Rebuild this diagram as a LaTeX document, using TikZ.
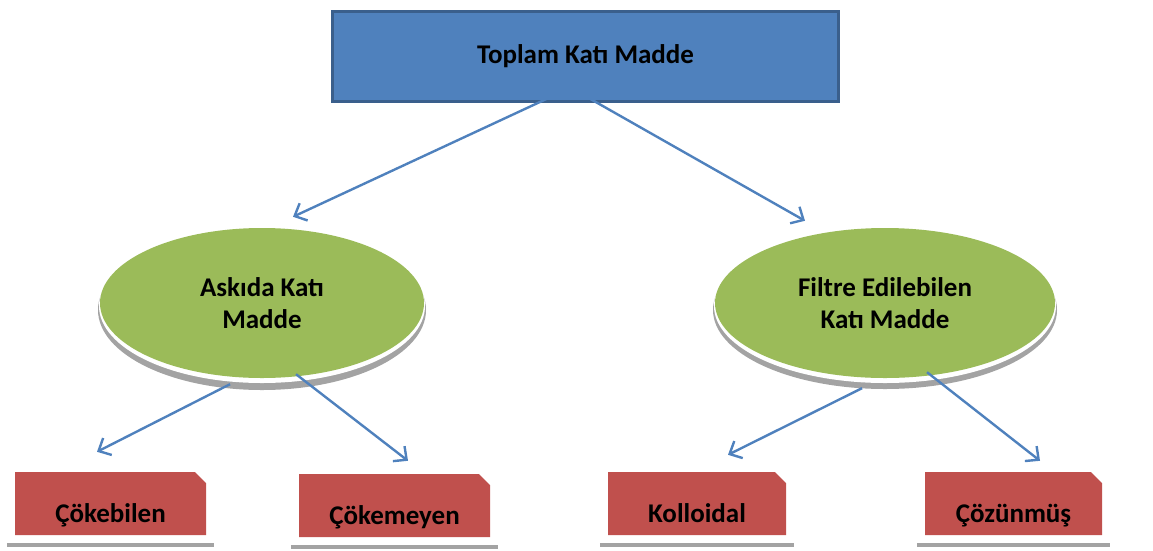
\documentclass[tikz,border=0pt]{standalone}
\usepackage{fontspec}
\setmainfont{Carlito}
\usetikzlibrary{arrows.meta,shapes.geometric,shapes.misc}
\definecolor{boxblue}{HTML}{4F81BD}
\definecolor{boxblueline}{HTML}{3A5F8C}
\definecolor{ovalgreen}{HTML}{9BBB59}
\definecolor{boxred}{HTML}{C0504D}
\definecolor{shadowgray}{HTML}{A3A3A3}
\tikzset{
  lbl/.style={font=\fontsize{27}{32}\selectfont\bfseries, text=black},
  topbox/.style={lbl, rectangle, fill=boxblue, draw=boxblueline, line width=3pt,
    minimum width=506pt, minimum height=90pt, inner sep=0pt},
  oval/.style={lbl, ellipse, fill=ovalgreen, inner sep=0pt, align=center},
  leaf/.style={lbl, chamfered rectangle, chamfered rectangle corners=north east,
    chamfered rectangle xsep=8pt, fill=boxred, inner sep=0pt,
    minimum height=63pt, text height=38pt, text depth=0pt},
  link/.style={draw=boxblue, line width=2.4pt,
    -{Straight Barb[length=10pt,width=19pt,line width=2.4pt]}},
  floor/.style={draw=shadowgray, line width=4pt}
}
\begin{document}
\begin{tikzpicture}[x=1pt,y=-1pt]
\useasboundingbox (0,0) rectangle (1153,550);
% ellipse shadows
\fill[shadowgray] (262,310) ellipse [x radius=164, y radius=80];
\fill[white] (262,306) ellipse [x radius=163, y radius=77];
\fill[shadowgray] (885,310) ellipse [x radius=172, y radius=79];
\fill[white] (885,306) ellipse [x radius=171, y radius=77];
% nodes
\node[topbox] (top) at (585.5,56.5) {Toplam Katı Madde};
\node[oval, minimum width=324pt, minimum height=150pt] (ask) at (262,303) {Askıda Katı\\Madde};
\node[oval, minimum width=340pt, minimum height=150pt] (fil) at (885,303) {Filtre Edilebilen\\Katı Madde};
\node[leaf, minimum width=191pt] (cok) at (110.5,503.5) {Çökebilen};
\node[leaf, minimum width=191pt] (cokm) at (394.5,505.5) {Çökemeyen};
\node[leaf, minimum width=178pt] (kol) at (697,503.5) {Kolloidal};
\node[leaf, minimum width=177pt] (coz) at (1013.5,503.5) {Çözünmüş};
% floor lines
\foreach \n in {cok,cokm,kol,coz}
  \draw[floor] ([shift={(-8,10)}]\n.south west) -- ([shift={(8,10)}]\n.south east);
% connectors
\draw[link] ([shift={(-15.5,-15)}]top.south) -- ([shift={(31,-11)}]ask.north);
\draw[link] ([shift={(-28.5,-23)}]top.south) -- ([shift={(-80,-7)}]fil.north);
\draw[link] ([shift={(-32,6)}]ask.south) -- ([shift={(-13.5,-20)}]cok.north);
\draw[link] ([shift={(34,-4)}]ask.south) -- ([shift={(13.5,-13)}]cokm.north);
\draw[link] ([shift={(-23,10)}]fil.south) -- ([shift={(31,-17)}]kol.north);
\draw[link] ([shift={(42,-6)}]fil.south) -- ([shift={(26.5,-11)}]coz.north);
\end{tikzpicture}
\end{document}
